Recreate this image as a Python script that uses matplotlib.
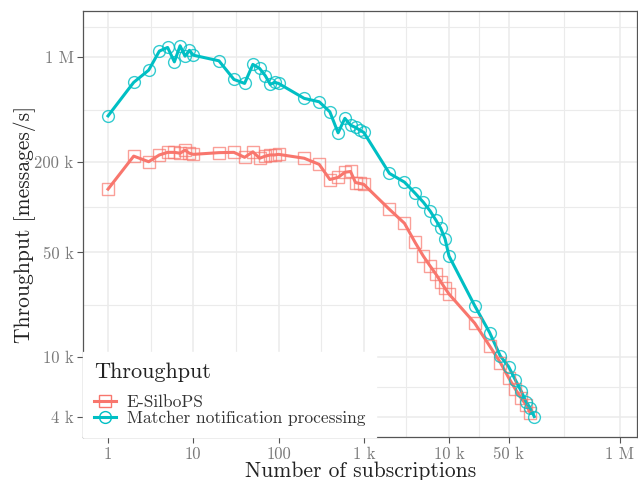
import numpy as np
import matplotlib
matplotlib.use("Agg")
import matplotlib.pyplot as plt

plt.rcParams['font.family'] = ['cmr10', 'DejaVu Serif']
plt.rcParams['axes.formatter.use_mathtext'] = True

# subscriptions: 1..10, 20..100, 200..1000, 2k..10k, 20k..100k
subs = [1, 2, 3, 4, 5, 6, 7, 8, 9, 10,
        20, 30, 40, 50, 60, 70, 80, 90, 100,
        200, 300, 400, 500, 600, 700, 800, 900, 1000,
        2000, 3000, 4000, 5000, 6000, 7000, 8000, 9000, 10000,
        20000, 30000, 40000, 50000, 60000, 70000, 80000, 90000, 100000]

matcher = [406e3, 679e3, 819e3, 1097e3, 1160e3, 930e3, 1190e3, 1015e3, 1110e3, 1030e3,
           945e3, 710e3, 668e3, 894e3, 841e3, 751e3, 658e3, 679e3, 668e3,
           531e3, 504e3, 432e3, 313e3, 391e3, 352e3, 340e3, 326e3, 315e3,
           168e3, 147e3, 124e3, 108e3, 94.4e3, 82.2e3, 72.4e3, 61.4e3, 47.3e3,
           22.1e3, 14.6e3, 10.2e3, 8.67e3, 7.07e3, 5.98e3, 5.07e3, 4.58e3, 4.03e3]

silbo_subs = subs[:-1]
silbo = [132e3, 219e3, 201e3, 223e3, 232e3, 232e3, 229e3, 240e3, 229e3, 225e3,
         231e3, 232e3, 215e3, 234e3, 212e3, 219e3, 223e3, 223e3, 225e3,
         212e3, 193e3, 153e3, 158e3, 171e3, 173e3, 146e3, 144e3, 142e3,
         96.8e3, 78.2e3, 58.3e3, 47.2e3, 40.6e3, 35.9e3, 31.9e3, 28.8e3, 26.4e3,
         16.9e3, 11.9e3, 9.23e3, 7.33e3, 6.14e3, 5.35e3, 4.85e3, 4.25e3]

x_ticks = [1, 10, 100, 1e3, 1e4, 5e4, 1e6]
x_labels = ['1', '10', '100', '1 k', '10 k', '50 k', '1 M']
y_ticks = [4e3, 1e4, 5e4, 2e5, 1e6]
y_labels = ['4 k', '10 k', '50 k', '200 k', '1 M']

red = '#F8766D'
cyan = '#00BFC4'

fig = plt.figure(figsize=(6.38, 4.8), dpi=100)
ax = fig.add_axes([0.1306, 0.0902, 0.8684, 0.8863])

ax.plot(silbo_subs, silbo, color=red, lw=2.2, zorder=3)
ax.plot(silbo_subs, silbo, ls='none', marker='s', ms=8, mfc='none', mec=red,
        mew=1.0, alpha=0.7, zorder=4)
ax.plot(subs, matcher, color=cyan, lw=2.2, zorder=3)
ax.plot(subs, matcher, ls='none', marker='o', ms=8.5, mfc='none', mec=cyan,
        mew=1.0, alpha=0.8, zorder=4)

ax.set_xscale('log')
ax.set_yscale('log')
ax.set_xlim(0.513, 1.62e6)
ax.set_ylim(2.96e3, 2.02e6)

ax.set_xticks(x_ticks)
ax.set_xticklabels(x_labels)
ax.set_yticks(y_ticks)
ax.set_yticklabels(y_labels)

# minor grid halfway (in log space) between breaks
xb = np.array(x_ticks)
yb = np.array(y_ticks + [2.5e6])
ax.set_xticks(np.sqrt(xb[:-1] * xb[1:]), minor=True)
ax.set_yticks(np.sqrt(yb[:-1] * yb[1:]), minor=True)
ax.tick_params(which='minor', length=0, labelbottom=False, labelleft=False)
ax.tick_params(which='major', length=4, width=0.8, color='#555555',
               labelcolor='#7a7a7a', labelsize=12, pad=3)

ax.grid(which='major', color='#EBEBEB', lw=1.1, zorder=0)
ax.grid(which='minor', color='#EBEBEB', lw=0.8, zorder=0)
ax.set_axisbelow(True)
for s in ax.spines.values():
    s.set_color('#555555')
    s.set_linewidth(0.9)

ax.set_xlabel('Number of subscriptions', fontsize=15.5, color='#222222', labelpad=0)
ax.set_ylabel('Throughput [messages/s]', fontsize=15.5, color='#222222', labelpad=-1)

h1, = ax.plot([], [], color=red, lw=2.2, marker='s', ms=8, mfc='none', mec=red,
              mew=1.0)
h2, = ax.plot([], [], color=cyan, lw=2.2, marker='o', ms=8.5, mfc='none', mec=cyan,
              mew=1.0)
leg = ax.legend([h1, h2], ['E-SilboPS', 'Matcher notification processing'],
                title='Throughput', loc='lower left', bbox_to_anchor=(0, 0),
                borderaxespad=0, frameon=True, fancybox=False, framealpha=1,
                edgecolor='white', facecolor='white', fontsize=12.5,
                title_fontsize=16, alignment='left', handlelength=1.3,
                handletextpad=0.6, labelspacing=0.05, borderpad=0.6)
# extra room between the legend title and its entries
leg._legend_box.sep = 9
leg.get_title().set_color('#222222')
for t in leg.get_texts():
    t.set_color('#333333')
leg.set_zorder(5)

fig.savefig('out.png', dpi=100)
